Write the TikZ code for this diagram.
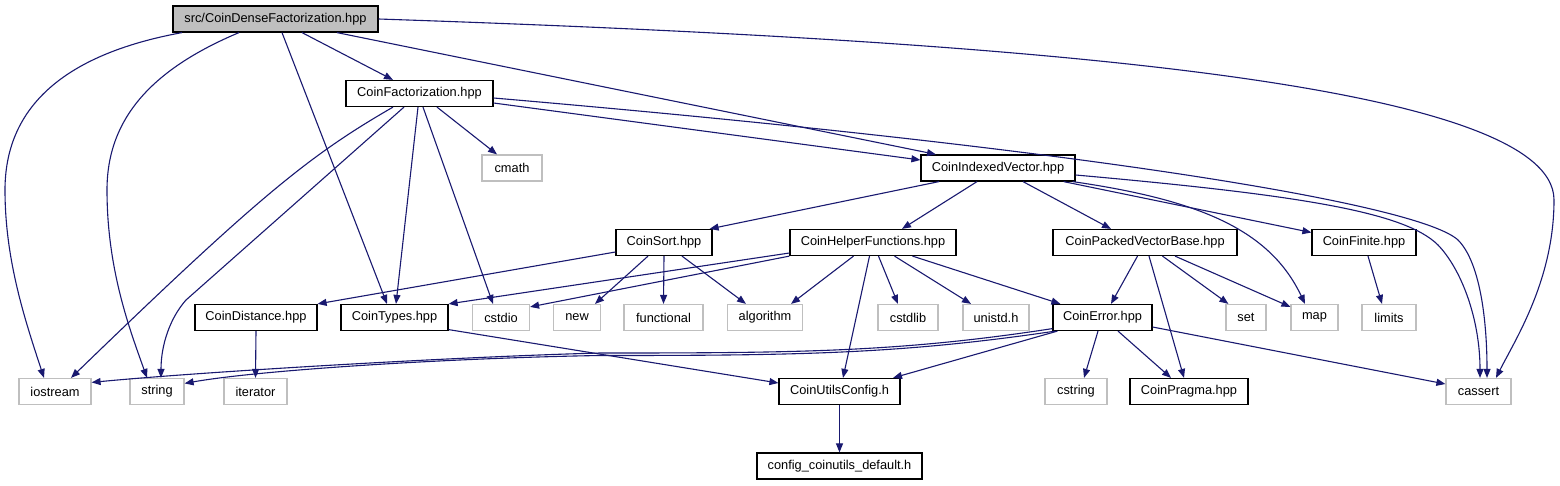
\documentclass[tikz,border=0pt]{standalone}
\usepackage{fontspec}
\setmainfont{Liberation Sans}
\usetikzlibrary{arrows.meta}
\definecolor{edgec}{HTML}{191970}
\definecolor{greyb}{HTML}{BFBFBF}
\begin{document}
\begin{tikzpicture}[x=1pt,y=-1pt,
  box/.style={draw, line width=1.2pt, inner sep=0pt, minimum height=26pt,
              font=\fontsize{12.8}{14}\selectfont, text=black},
  doc/.style={box, draw=black},
  sys/.style={box, draw=greyb},
  rootbox/.style={box, draw=black, fill=greyb},
  dep/.style={draw=edgec, line width=1.1pt, -{Triangle[length=9pt,width=7pt]}}
]
\fill[white] (0,0) rectangle (1560,485);
\useasboundingbox (0,0) rectangle (1560,485);

% nodes
\node[rootbox, minimum width=205pt] (root) at (275.5,19) {src/CoinDenseFactorization.hpp};
\node[doc, minimum width=147pt] (cf) at (419.5,93.5) {CoinFactorization.hpp};
\node[sys, minimum width=60pt] (cmath) at (512,168) {cmath};
\node[doc, minimum width=154pt] (civ) at (998,168) {CoinIndexedVector.hpp};
\node[doc, minimum width=96pt] (csort) at (664,242.5) {CoinSort.hpp};
\node[doc, minimum width=166pt] (chf) at (873,242.5) {CoinHelperFunctions.hpp};
\node[doc, minimum width=184pt] (cpvb) at (1145,242.5) {CoinPackedVectorBase.hpp};
\node[doc, minimum width=104pt] (cfin) at (1364,242.5) {CoinFinite.hpp};
\node[doc, minimum width=122pt] (cdist) at (256,317.5) {CoinDistance.hpp};
\node[doc, minimum width=107pt] (ctypes) at (394.5,317.5) {CoinTypes.hpp};
\node[sys, minimum width=57pt] (cstdio) at (501,317.5) {cstdio};
\node[sys, minimum width=47pt] (new) at (577,317.5) {new};
\node[sys, minimum width=79pt] (functional) at (663.5,317.5) {functional};
\node[sys, minimum width=75pt] (algorithm) at (765,317.5) {algorithm};
\node[sys, minimum width=60pt] (cstdlib) at (908,317.5) {cstdlib};
\node[sys, minimum width=66pt] (unistd) at (996,317.5) {unistd.h};
\node[doc, minimum width=99pt] (cerr) at (1102.5,317.5) {CoinError.hpp};
\node[sys, minimum width=40pt] (set) at (1246,317.5) {set};
\node[sys, minimum width=47pt] (map) at (1314.5,317.5) {map};
\node[sys, minimum width=54pt] (limits) at (1389,317.5) {limits};
\node[sys, minimum width=72pt] (iostream) at (55,391.5) {iostream};
\node[sys, minimum width=54pt] (string) at (157,391.5) {string};
\node[sys, minimum width=63pt] (iterator) at (255.5,391.5) {iterator};
\node[doc, minimum width=121pt] (cuc) at (839.5,391.5) {CoinUtilsConfig.h};
\node[sys, minimum width=62pt] (cstring) at (1076,391.5) {cstring};
\node[doc, minimum width=118pt] (cpragma) at (1189,391.5) {CoinPragma.hpp};
\node[sys, minimum width=65pt] (cassert) at (1478.5,391.5) {cassert};
\node[doc, minimum width=165pt] (config) at (839.5,466) {config\_coinutils\_default.h};

% edges from root
\draw[dep] ([xshift=-93.5pt]root.south) .. controls (60,55) and (5,110) .. (5,190) .. controls (5,260) and (25,320) .. ([xshift=-11pt]iostream.north);
\draw[dep] ([xshift=-36.5pt]root.south) .. controls (150,70) and (107,120) .. (107,190) .. controls (107,270) and (130,330) .. ([xshift=-10pt]string.north);
\draw[dep] ([xshift=6.5pt]root.south) -- ([xshift=-7.5pt]ctypes.north);
\draw[dep] ([xshift=26.5pt]root.south) -- ([xshift=-26.5pt]cf.north);
\draw[dep] ([xshift=61.5pt]root.south) -- ([xshift=-62pt]civ.north);
\draw[dep] (root.east) .. controls (1000,40) and (1554,80) .. (1554,200) .. controls (1554,280) and (1515,340) .. ([xshift=17.5pt]cassert.north);

% edges from CoinFactorization
\draw[dep] ([xshift=-26.5pt]cf.south) .. controls (310,155) and (260,195) .. ([xshift=16pt]iostream.north);
\draw[dep] ([xshift=-15.5pt]cf.south) -- (186,300) .. controls (170,318) and (161,345) .. ([xshift=4pt]string.north);
\draw[dep] ([xshift=-1.5pt]cf.south) -- ([xshift=1.5pt]ctypes.north);
\draw[dep] ([xshift=3.5pt]cf.south) -- ([xshift=-8pt]cstdio.north);
\draw[dep] ([xshift=17.5pt]cf.south) -- ([xshift=-15pt]cmath.north);
\draw[dep] ([yshift=-9.5pt]cf.east) -- ([yshift=8pt]civ.west);
\draw[dep] ([yshift=-4.5pt]cf.east) .. controls (1100,150) and (1420,205) .. (1458,240) .. controls (1480,262) and (1487,320) .. ([xshift=8.5pt]cassert.north);

% edges from CoinIndexedVector
\draw[dep] ([xshift=-59pt]civ.south) -- ([xshift=-3pt]csort.north east);
\draw[dep] ([xshift=-21pt]civ.south) -- ([xshift=29pt]chf.north);
\draw[dep] ([xshift=25pt]civ.south) -- ([xshift=-34pt]cpvb.north);
\draw[dep] ([xshift=-12pt]civ.south east) -- ([yshift=10pt]cfin.west);
\draw[dep] ([xshift=-3pt]civ.south east) .. controls (1200,200) and (1270,230) .. ([xshift=-9.5pt]map.north);
\draw[dep] ([yshift=-7pt]civ.east) .. controls (1300,195) and (1405,212) .. (1438,245) .. controls (1462,270) and (1480,320) .. ([xshift=1.5pt]cassert.north);

% edges from CoinSort
\draw[dep] ([yshift=-9.5pt]csort.west) -- (cdist.north east);
\draw[dep] ([xshift=-16pt]csort.south) -- ([xshift=18pt]new.north);
\draw[dep] (csort.south) -- (functional.north);
\draw[dep] ([xshift=18pt]csort.south) -- ([xshift=-19pt]algorithm.north);

% edges from CoinHelperFunctions
\draw[dep] ([yshift=-10.5pt]chf.west) -- (ctypes.north east);
\draw[dep] (chf.south west) -- ([yshift=-3pt]cstdio.north east);
\draw[dep] ([xshift=-19.5pt]chf.south) -- ([xshift=26pt]algorithm.north);
\draw[dep] ([xshift=-3.5pt]chf.south) -- ([xshift=3.5pt]cuc.north);
\draw[dep] ([xshift=5.5pt]chf.south) -- ([xshift=-10pt]cstdlib.north);
\draw[dep] ([xshift=21.5pt]chf.south) -- ([xshift=-25pt]unistd.north);
\draw[dep] ([xshift=39.5pt]chf.south) -- ([xshift=8pt]cerr.north west);

% edges from CoinPackedVectorBase
\draw[dep] ([xshift=-7.5pt]cpvb.south) -- ([xshift=8.5pt]cerr.north);
\draw[dep] ([xshift=4pt]cpvb.south) -- ([xshift=-5pt]cpragma.north);
\draw[dep] ([xshift=17.5pt]cpvb.south) -- ([xshift=3pt]set.north west);
\draw[dep] ([xshift=30pt]cpvb.south) -- ([yshift=-3pt]map.north west);

% other edges
\draw[dep] ([xshift=4pt]cfin.south) -- ([xshift=-7pt]limits.north);
\draw[dep] (cdist.south) -- (iterator.north);
\draw[dep] ([yshift=1.5pt]ctypes.south east) -- ([yshift=8.5pt]cuc.west);

% edges from CoinError
\draw[dep] ([yshift=2.5pt]cerr.south west) .. controls (900,352) and (800,353) .. (600,353) .. controls (450,357) and (200,372) .. ([yshift=-4.5pt]iostream.north east);
\draw[dep] ([xshift=3pt]cerr.south west) .. controls (900,354) and (800,355.5) .. (600,355.5) .. controls (450,358) and (260,370) .. ([yshift=-5.5pt]string.north east);
\draw[dep] ([xshift=5pt]cerr.south west) -- ([xshift=53.5pt]cuc.north);
\draw[dep] ([xshift=-4.5pt]cerr.south) -- ([xshift=8pt]cstring.north);
\draw[dep] ([xshift=15.5pt]cerr.south) -- ([xshift=-18pt]cpragma.north);
\draw[dep] ([yshift=-9.5pt]cerr.east) -- ([yshift=7.5pt]cassert.west);

\draw[dep] (cuc.south) -- (config.north);
\end{tikzpicture}
\end{document}
